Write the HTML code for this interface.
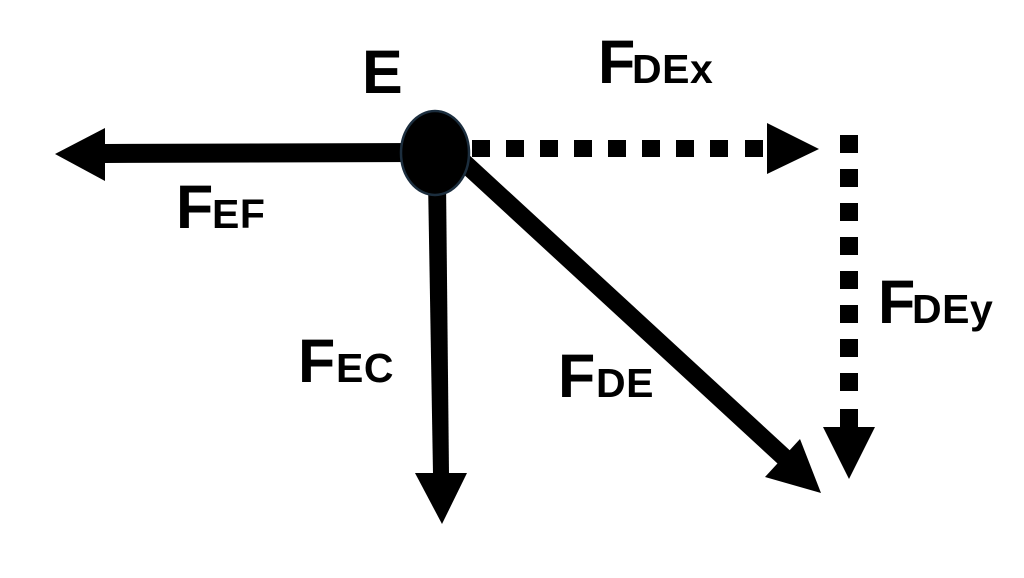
<!DOCTYPE html>
<html>
<head>
<meta charset="utf-8">
<style>
  html, body { margin: 0; padding: 0; background: #ffffff; }
  body { width: 1024px; height: 578px; overflow: hidden; }
  svg { display: block; }
  text { font-family: "Liberation Sans", Arial, sans-serif; font-weight: bold; fill: #000; }
  .big { font-size: 61px; }
  .sub { font-size: 41px; letter-spacing: 0.5px; }
</style>
</head>
<body>
<svg width="1024" height="578" viewBox="0 0 1024 578" xmlns="http://www.w3.org/2000/svg">
  <rect x="0" y="0" width="1024" height="578" fill="#ffffff"/>

  <!-- Left arrow F_EF -->
  <polygon points="105,144 420,143 420,162 105,163" fill="#000"/>
  <polygon points="55,154 105,128 105,181" fill="#000"/>

  <!-- Down arrow F_EC -->
  <polygon points="428,180 446,180 449,474 433,474" fill="#000"/>
  <polygon points="415,473 467,473 442,524" fill="#000"/>

  <!-- Diagonal arrow F_DE -->
  <line x1="445" y1="145" x2="787" y2="460" stroke="#000" stroke-width="18"/>
  <polygon points="765,477 800,439 821,493" fill="#000"/>

  <!-- Dotted horizontal F_DEx -->
  <g fill="#000">
    <rect x="472" y="140" width="18" height="17"/>
    <rect x="506" y="140" width="18" height="17"/>
    <rect x="540" y="140" width="18" height="17"/>
    <rect x="574" y="140" width="18" height="17"/>
    <rect x="608" y="140" width="18" height="17"/>
    <rect x="642" y="140" width="18" height="17"/>
    <rect x="676" y="140" width="18" height="17"/>
    <rect x="710" y="140" width="18" height="17"/>
    <rect x="745" y="140" width="18" height="17"/>
  </g>
  <polygon points="767,123 819,149 767,174" fill="#000"/>

  <!-- Dotted vertical F_DEy -->
  <g fill="#000">
    <rect x="840" y="135" width="18" height="18"/>
    <rect x="840" y="169" width="18" height="18"/>
    <rect x="840" y="203" width="18" height="18"/>
    <rect x="840" y="237" width="18" height="18"/>
    <rect x="840" y="271" width="18" height="18"/>
    <rect x="840" y="305" width="18" height="18"/>
    <rect x="840" y="339" width="18" height="18"/>
    <rect x="840" y="373" width="18" height="18"/>
    <rect x="840" y="409" width="18" height="20"/>
  </g>
  <polygon points="823,427 875,427 849,479" fill="#000"/>

  <!-- Node E -->
  <ellipse cx="435" cy="153" rx="34" ry="42" fill="#000" stroke="#1c2e3e" stroke-width="2.5"/>

  <!-- Labels -->
  <text class="big" x="362" y="93">E</text>

  <text class="big" x="176" y="228">F</text>
  <text class="sub" x="212" y="228">EF</text>

  <text class="big" x="298" y="382">F</text>
  <text class="sub" x="336" y="382">EC</text>

  <text class="big" x="558" y="397">F</text>
  <text class="sub" x="596" y="397">DE</text>

  <text class="big" x="598" y="83">F</text>
  <text class="sub" x="632" y="83">DEx</text>

  <text class="big" x="878" y="323">F</text>
  <text class="sub" x="912" y="323">DEy</text>
</svg>
</body>
</html>
